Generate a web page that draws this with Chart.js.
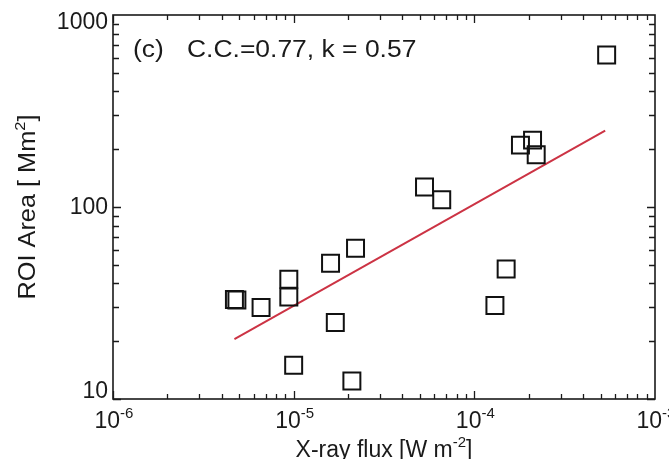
<!DOCTYPE html>
<html>
<head>
<meta charset="utf-8">
<script src="https://cdn.jsdelivr.net/npm/chart.js@4.4.1/dist/chart.umd.min.js"></script>
<style>
    html, body { margin: 0; padding: 0; background: #fff; }
    #wrap { width: 669px; height: 459px; }
</style>
</head>
<body>
<div id="wrap"><canvas id="roiChart"></canvas></div>
<script>
// DATA

const fluxValues = [4.7e-6, 4.85e-6, 6.6e-6, 9.4e-6, 9.4e-6, 1.0e-5, 1.6e-5, 1.7e-5, 2.2e-5, 2.1e-5,
                    5.3e-5, 6.6e-5, 1.3e-4, 1.5e-4, 1.8e-4, 2.1e-4, 2.2e-4, 5.4e-4];
const areaValues = [33, 32.8, 30, 42, 34, 15, 51, 25, 61, 12.4,
                    127, 109, 30.7, 47.6, 210, 223, 187, 619];

const fitFlux = [4.7e-6, 5.3e-4];
const fitArea = [20.5, 250];

const xTickExps = [-6, -5, -4, -3];
const yTickValues = [10, 100, 1000];
const yTickLabels = ["10", "100", "1000"];

const panelLabel = "(c)";
const statsLabel = "C.C.=0.77, k = 0.57";

// GLOBAL VARIABLES

const FONT = "'Liberation Sans', Arial, Helvetica, sans-serif";
const INK = "#1a1a1a";
const BIG = `23px ${FONT}`;
const SMALL = `15px ${FONT}`;

// FUNCTIONS

function minorValues(min, max) {
    const vals = [];
    for (let e = Math.floor(Math.log10(min)); e < Math.ceil(Math.log10(max)); e++) {
        for (let m = 1; m <= 9; m++) {
            const v = m * Math.pow(10, e);
            if (v >= min * 0.999 && v <= max * 1.001) vals.push({ v, major: m === 1 });
        }
    }
    return vals;
}

// draws pieces [text, raised?] left to right starting at x, baseline y
function drawPieces(ctx, pieces, x, y, centred) {
    const widths = pieces.map(p => {
        ctx.font = p[1] ? SMALL : BIG;
        return ctx.measureText(p[0]).width;
    });
    let cx = centred ? x - widths.reduce((a, b) => a + b, 0) / 2 : x;
    ctx.textAlign = "left";
    ctx.textBaseline = "alphabetic";
    pieces.forEach((p, i) => {
        ctx.font = p[1] ? SMALL : BIG;
        ctx.fillText(p[0], cx, p[1] ? y - 10 : y);
        cx += widths[i];
    });
}

const axisDecor = {
    id: "axisDecor",
    afterDraw(chart) {
        const ctx = chart.ctx;
        const { left, right, top, bottom } = chart.chartArea;
        const xScale = chart.scales.x;
        const yScale = chart.scales.y;

        ctx.save();
        ctx.strokeStyle = INK;
        ctx.fillStyle = INK;
        ctx.lineWidth = 1.6;
        ctx.strokeRect(left, top, right - left, bottom - top);

        // inward ticks on all four sides
        ctx.lineWidth = 1.3;
        ctx.beginPath();
        minorValues(xScale.min, xScale.max).forEach(t => {
            const px = Math.round(xScale.getPixelForValue(t.v)) + 0.5;
            const len = t.major ? 8 : 5;
            ctx.moveTo(px, bottom); ctx.lineTo(px, bottom - len);
            ctx.moveTo(px, top); ctx.lineTo(px, top + len);
        });
        minorValues(yScale.min, yScale.max).forEach(t => {
            const py = Math.round(yScale.getPixelForValue(t.v)) + 0.5;
            const len = t.major ? 8 : 6;
            ctx.moveTo(left, py); ctx.lineTo(left + len, py);
            ctx.moveTo(right, py); ctx.lineTo(right - len, py);
        });
        ctx.stroke();

        // x tick labels
        xTickExps.forEach(e => {
            const px = xScale.getPixelForValue(Math.pow(10, e));
            drawPieces(ctx, [["10", false], [String(e), true]], px + 1, bottom + 29, true);
        });

        // y tick labels, kept inside the axis span
        ctx.font = BIG;
        ctx.textAlign = "right";
        ctx.textBaseline = "middle";
        yTickValues.forEach((v, i) => {
            let py = yScale.getPixelForValue(v);
            py = Math.min(Math.max(py, top + 7), bottom - 8);
            ctx.fillText(yTickLabels[i], left - 5, py + 1);
        });

        // x title
        drawPieces(ctx, [["X-ray flux [W m", false], ["-2", true], ["]", false]], (left + right) / 2, bottom + 58, true);

        // y title, rotated and a little stretched
        ctx.save();
        ctx.translate(35, (top + bottom) / 2);
        ctx.rotate(-Math.PI / 2);
        ctx.scale(1.1, 1);
        drawPieces(ctx, [["ROI Area [ Mm", false], ["2", true], ["]", false]], 0, 0, true);
        ctx.restore();

        // panel annotation, wide like the original face
        ctx.save();
        ctx.translate(left + 20, top + 42);
        ctx.scale(1.15, 1);
        ctx.font = BIG;
        ctx.textAlign = "left";
        ctx.textBaseline = "alphabetic";
        ctx.fillText(panelLabel, 0, 0);
        ctx.fillText(statsLabel, 54 / 1.15, 0);
        ctx.restore();

        ctx.restore();
    }
};

function drawRoiChart() {
    const points = fluxValues.map((x, i) => ({ x, y: areaValues[i] }));
    const fitPoints = fitFlux.map((x, i) => ({ x, y: fitArea[i] }));

    new Chart(document.getElementById("roiChart"), {
        type: "scatter",
        plugins: [axisDecor],
        data: {
            datasets: [
                {
                    data: fitPoints,
                    showLine: true,
                    pointRadius: 0,
                    borderColor: "#cc3344",
                    borderWidth: 2,
                    order: 2,
                },
                {
                    data: points,
                    pointStyle: "rect",
                    pointRadius: 12,
                    borderColor: "#111",
                    borderWidth: 2,
                    backgroundColor: "transparent",
                    order: 1,
                }
            ]
        },
        options: {
            responsive: true,
            maintainAspectRatio: false,
            animation: false,
            events: [],
            layout: {
                padding: { left: 113, top: 15, right: 12, bottom: 60 },
            },
            scales: {
                x: {
                    type: "logarithmic",
                    min: 1e-6,
                    max: 1e-3,
                    display: false,
                },
                y: {
                    type: "logarithmic",
                    min: 10,
                    max: 1000,
                    display: false,
                }
            },
            plugins: {
                legend: { display: false },
                tooltip: { enabled: false },
            }
        }
    });
}

drawRoiChart();
</script>
</body>
</html>
